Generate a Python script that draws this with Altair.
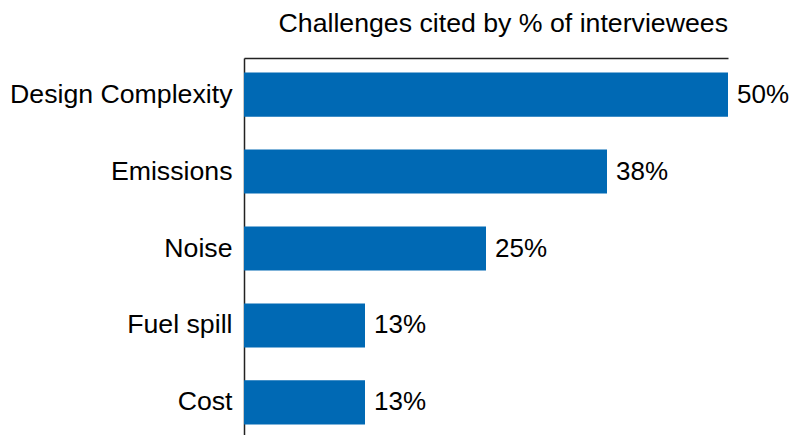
import altair as alt
import pandas as pd

categories = ["Design Complexity", "Emissions", "Noise", "Fuel spill", "Cost"]
values = [50, 37.5, 25, 12.5, 12.5]
labels = ["50%", "38%", "25%", "13%", "13%"]

df = pd.DataFrame({"cat": categories, "val": values, "lab": labels})

FONT = "Liberation Sans"
FS = 26.7

y = alt.Y(
    "cat:N",
    sort=categories,
    scale=alt.Scale(paddingInner=0.427, paddingOuter=0.19),
    axis=alt.Axis(
        title=None,
        ticks=False,
        grid=False,
        labelFontSize=FS,
        labelFont=FONT,
        labelColor="black",
        labelPadding=12,
        domainColor="#222222",
        domainWidth=1.5,
        labelLimit=400,
    ),
)
x = alt.X(
    "val:Q",
    scale=alt.Scale(domain=[0, 50], nice=False),
    axis=alt.Axis(
        orient="top",
        title=None,
        labels=False,
        ticks=False,
        grid=False,
        domainColor="#222222",
        domainWidth=1.5,
    ),
)

bars = alt.Chart(df).mark_bar(color="#0069b4").encode(x=x, y=y)
text = alt.Chart(df).mark_text(
    align="left", baseline="middle", dx=9, fontSize=26, font=FONT, color="black"
).encode(x=x, y=y, text="lab:N")

chart = (
    alt.layer(bars, text)
    .properties(
        width=484,
        height=381,
        background="white",
        autosize=alt.AutoSizeParams(type="none"),
        padding={"left": 236, "top": 50, "right": 61, "bottom": 0},
        title=alt.TitleParams(
            "Challenges cited by % of interviewees",
            anchor="end",
            frame="group",
            fontSize=FS,
            font=FONT,
            fontWeight="normal",
            color="black",
            offset=20,
        ),
    )
    .configure_view(strokeWidth=0, stroke=None)
)

chart.save("out.html", embed_options={"renderer": "svg", "actions": False})
